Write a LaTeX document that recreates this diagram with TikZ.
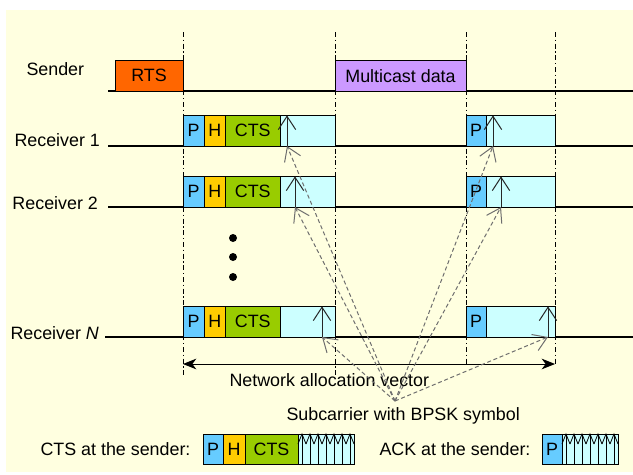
\documentclass[tikz,border=0pt]{standalone}
\usepackage{fontspec}
\setmainfont{Liberation Sans}
\usetikzlibrary{positioning,arrows.meta}

\definecolor{bgyellow}{RGB}{255,255,224}
\definecolor{rtsorange}{RGB}{255,102,0}
\definecolor{mcpurple}{RGB}{204,153,255}
\definecolor{preblue}{RGB}{102,204,255}
\definecolor{hdryellow}{RGB}{255,204,0}
\definecolor{ctsgreen}{RGB}{153,204,0}
\definecolor{symcyan}{RGB}{204,255,255}
\definecolor{dashgray}{RGB}{110,110,110}

\tikzset{every picture/.style={line width=0.75pt}}
\tikzset{
  pktbox/.style={draw, inner sep=0pt, outer sep=0pt, minimum height=23pt, anchor=south west},
  symbox/.style={pktbox, fill=symcyan},
  vline/.style={line width=0.75pt, dash pattern=on 3.75pt off 2pt on 1pt off 2pt},
  timeline/.style={line width=1pt},
  symarrow/.style={draw=black!85, -{Straight Barb[length=10pt,width=13pt]}},
  subarrow/.style={draw=dashgray, dash pattern=on 3pt off 2pt, -{Straight Barb[length=10pt,width=13pt]}},
  navarrow/.style={>={Stealth[length=10pt,width=8pt,inset=3pt]}, <->},
  lbl/.style={anchor=base west, inner sep=0pt},
}

\begin{document}
\begin{tikzpicture}[x=0.75pt,y=0.75pt,yscale=-1,
  every node/.style={font=\fontsize{13.4}{16}\selectfont}]
\useasboundingbox (0,0) rectangle (633,475);

%Shape: Rectangle [background]
\fill [bgyellow] (6,10) rectangle (633,472);

%Straight Lines [slot boundaries]
\draw [vline] (183,32) -- (183,375);
\draw [vline] (335,32) -- (335,375);
\draw [vline] (466,32) -- (466,364);
\draw [vline] (555,32) -- (555,364);

%Straight Lines [time axes]
\draw [timeline] (108,91) -- (633,91);
\draw [timeline] (108,146) -- (633,146);
\draw [timeline] (108,207) -- (633,207);
\draw [timeline] (105,337) -- (633,337);

% Text Node
\node [lbl] (sndr) at (26,75) {Sender};
\node [lbl] (rcv1) at (14,146) {Receiver 1};
\node [lbl] (rcv2) at (12,209) {Receiver 2};
\node [lbl] (rcvn) at (10,339) {Receiver \textit{N}};

%Shape: Rectangle [sender frames]
\node [pktbox, fill=rtsorange, minimum width=51pt] (rts) at (115,91) {RTS};
\node [pktbox, fill=mcpurple, minimum width=98.25pt] (mcast) at (335,91) {Multicast data};

%Shape: Rectangle [receiver frames]
\foreach \r/\y/\xa/\xb in {1/146/287/493, 2/207/295/501, n/337/322/548}{
  \node [pktbox, fill=preblue, minimum width=15.75pt] (p\r) at (183,\y) {P};
  \node [pktbox, fill=hdryellow, minimum width=16.1pt, right=0pt of p\r] (h\r) {H};
  \node [pktbox, fill=ctsgreen, minimum width=40.9pt, right=0pt of h\r] (c\r) {CTS};
  \node [symbox, minimum width=41.25pt, right=0pt of c\r] (s\r) {};
  \node [pktbox, fill=preblue, minimum width=15pt] (q\r) at (466,\y) {P};
  \node [symbox, minimum width=51.75pt, right=0pt of q\r] (t\r) {};
  \coordinate (fa\r) at (\xa,\y);
  \coordinate (fb\r) at (\xb,\y);
  \draw [symarrow] (fa\r) -- (fa\r |- s\r.north);
  \draw [symarrow] (fb\r) -- (fb\r |- t\r.north);
}

%Shape: Circle [more receivers]
\foreach \y in {238,257,277} \fill (233,\y) circle (3pt);

%Straight Lines [NAV]
\coordinate (navl) at (183,364);
\coordinate (navr) at (555,364);
\draw [navarrow] (navl) -- (navr);
\node [lbl] (navtxt) at (229,386) {Network allocation vector};

% Text Node
\node [lbl] (subtxt) at (286,420) {Subcarrier with BPSK symbol};
\coordinate (hub) at (395,401);
\foreach \t in {fa1,fa2,fan,fb1,fb2,fbn} \draw [subarrow] (hub) -- (\t);

%Legend: CTS at the sender
\node [lbl] (ctslbl) at (40,455) {CTS at the sender:};
\node [pktbox, fill=preblue, minimum width=15pt, minimum height=22.5pt] (lp) at (203,464) {P};
\node [pktbox, fill=hdryellow, minimum width=16.5pt, minimum height=22.5pt, right=0pt of lp] (lh) {H};
\node [pktbox, fill=ctsgreen, minimum width=39.75pt, minimum height=22.5pt, right=0pt of lh] (lc) {CTS};
\node [symbox, minimum width=42pt, minimum height=22.5pt, right=0pt of lc] (ls) {};
\foreach \k in {0,...,6}{
  \draw [line width=0.6pt] (298+8*\k,444) -- (302+8*\k,434) -- (306+8*\k,444);
  \draw [line width=0.6pt] (302+8*\k,434) -- (302+8*\k,464);
}

%Legend: ACK at the sender
\node [lbl] (acklbl) at (379,455) {ACK at the sender:};
\node [pktbox, fill=preblue, minimum width=15pt, minimum height=22.5pt] (ap) at (542,464) {P};
\node [symbox, minimum width=42pt, minimum height=22.5pt, right=0pt of ap] (as) {};
\foreach \k in {0,...,6}{
  \draw [line width=0.6pt] (562+8*\k,444) -- (566+8*\k,434) -- (570+8*\k,444);
  \draw [line width=0.6pt] (566+8*\k,434) -- (566+8*\k,464);
}

\end{tikzpicture}
\end{document}
